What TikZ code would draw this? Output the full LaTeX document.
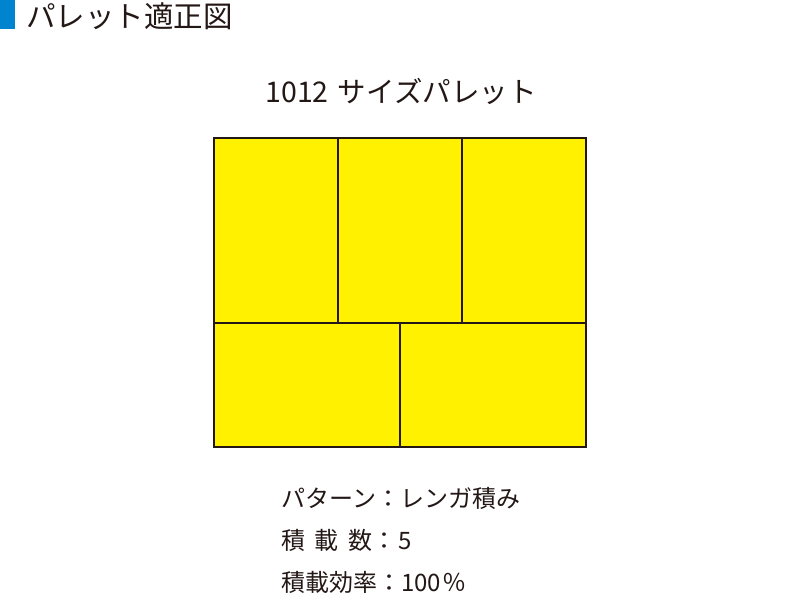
\documentclass[tikz,border=0pt]{standalone}
\usepackage{fontspec}
\newfontfamily\jp{Noto Sans CJK JP}
\definecolor{ink}{RGB}{35,24,21}
\definecolor{palyellow}{RGB}{255,241,0}
\definecolor{barblue}{RGB}{0,132,207}
\tikzset{
  box/.style={fill=palyellow,draw=ink,line width=1.5pt},
  txt/.style={inner sep=0pt,text=ink},
}
\begin{document}
\begin{tikzpicture}[x=1pt,y=-1pt]
\useasboundingbox[fill=white] (0,0) rectangle (800,593);
\fill[barblue] (0,0) rectangle (15,29);
\node[txt,anchor=west,font=\jp\fontsize{29.5}{29.5}\selectfont] (title) at (26,16) {パレット適正図};
\node[txt,anchor=center,font=\jp\fontsize{28.5}{28.5}\selectfont] (sub) at (401,91) {1012\hspace{0.1em} サイズパレット};
% pallet
\filldraw[box] (214,138) rectangle (338,323);
\filldraw[box] (338,138) rectangle (462,323);
\filldraw[box] (462,138) rectangle (586,323);
\filldraw[box] (214,323) rectangle (400,447);
\filldraw[box] (400,323) rectangle (586,447);
\node[txt,anchor=west,font=\jp\fontsize{24}{24}\selectfont] (l1) at (281,498) {パターン：レンガ積み};
\node[txt,anchor=west,font=\jp\fontsize{24}{24}\selectfont] (l2) at (281,540) {積\hspace{0.4em}載\hspace{0.4em}数：\hspace{0.1em}5};
\node[txt,anchor=west,font=\jp\fontsize{24}{24}\selectfont] (l3) at (281,582) {積載効率：100\hspace{0.05em}％};
\end{tikzpicture}
\end{document}
